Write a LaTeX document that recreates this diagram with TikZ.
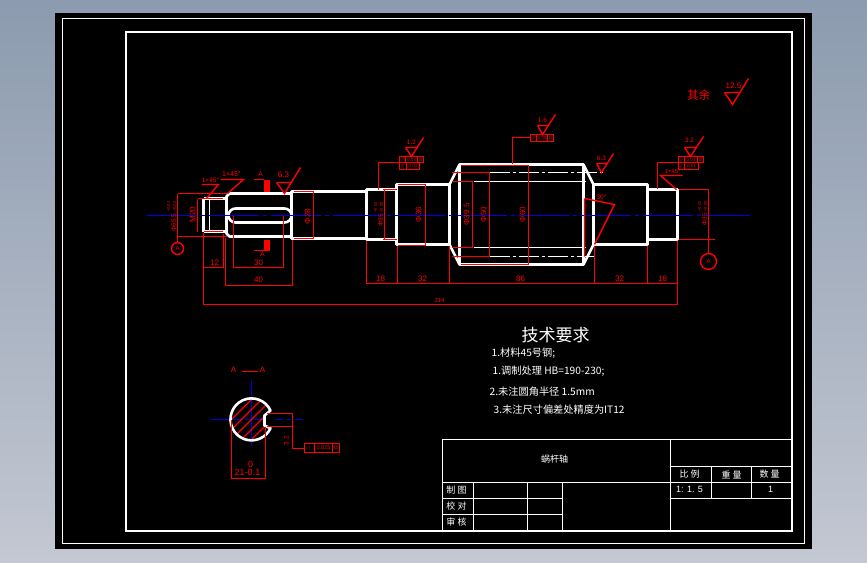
\documentclass[tikz,border=0pt]{standalone}
\usepackage{fontspec}
\setmainfont{Liberation Sans}
\newfontfamily\cjk{Noto Sans CJK SC}
\definecolor{cadgrey}{HTML}{8C9BAF}
\definecolor{cadgreylow}{HTML}{C3C8D2}
\definecolor{cadred}{HTML}{FF0000}
\definecolor{cadblue}{HTML}{0000E6}
\newcommand{\tolpair}[2]{{\fontsize{4}{4.4}\selectfont\shortstack{#1\\#2}}}
\tikzset{
  part/.style={draw=white,line width=2.6pt,line join=round},
  frame/.style={draw=white,line width=1.2pt},
  thinline/.style={draw=white,line width=1.2pt},
  dim/.style={draw=cadred,line width=1.4pt},
  heavydim/.style={draw=cadred,line width=1.6pt},
  axis/.style={draw=cadblue,line width=1.4pt,dash pattern=on 50pt off 4pt on 4pt off 4pt},
  dimtext/.style={text=cadred,font=\fontsize{8}{8}\selectfont,inner sep=0pt},
  smalltext/.style={text=cadred,font=\fontsize{6.5}{6.5}\selectfont,inner sep=0pt},
  tinytext/.style={text=cadred,font=\fontsize{4.5}{4.5}\selectfont,inner sep=0pt},
  datum/.style={draw=cadred,line width=1.4pt,circle,text=cadred,font=\fontsize{6}{6}\selectfont,inner sep=0pt},
  note/.style={text=white,font=\cjk\fontsize{10.2}{11}\selectfont,inner sep=0pt,anchor=west},
  cell/.style={text=white,font=\cjk\fontsize{9}{9}\selectfont,inner sep=0pt}
}
\begin{document}
\begin{tikzpicture}[x=1pt,y=-1pt]
\useasboundingbox (0,0) rectangle (867,562);
\shade[top color=cadgrey,bottom color=cadgreylow] (0,0) rectangle (867,562);
\fill[black] (55,13) rectangle (812,549);
\begin{scope}[shift={(0.5,0.5)}]
\draw[frame] (62,18) rectangle (804,543);
\draw[frame,line width=2pt] (125,31) rectangle (791,530);

% shaft
\draw[part] (203,198) -- (226,198) (203,231) -- (226,231) (203,198) -- (203,231);
\draw[thinline] (209,199) -- (209,231);
\draw[part] (226,196) -- (229,193) -- (291,193) -- (291,191) -- (366,191) -- (366,189)
  -- (396,189) -- (396,184) -- (449,184) -- (459,164) -- (583,164) -- (593,184)
  -- (647,184) -- (647,189) -- (677,189) -- (677,239) -- (647,239) -- (647,244) -- (593,244)
  -- (583,264) -- (459,264) -- (449,244) -- (396,244) -- (396,239) -- (366,239) -- (366,238)
  -- (291,238) -- (291,236) -- (229,236) -- (226,233) -- cycle;
\foreach \x/\a/\b in {291/191/238,366/189/239,396/184/244,449/184/244,459/164/264,
  583/164/264,593/184/244,647/184/244}
  \draw[part] (\x,\a) -- (\x,\b);
% keyway
\draw[part] (235,208) -- (284,208) arc[start angle=-90,end angle=90,radius=7] -- (235,222)
  arc[start angle=90,end angle=270,radius=7];
% thread lines
\draw[thinline] (473,181) -- (585,181);
\draw[thinline] (473,247) -- (585,247);
\draw[thinline,dash pattern=on 20pt off 3pt on 3pt off 3pt] (489,172) -- (605,172);
\draw[thinline,dash pattern=on 20pt off 3pt on 3pt off 3pt] (489,256) -- (593,256);

% centre lines
\draw[axis] (146,215) -- (749,215);
\draw[axis,dash pattern=on 30pt off 4pt on 4pt off 4pt] (210,419) -- (302,419);
\draw[cadblue,line width=1.4pt] (251,380) -- (251,444);

% left end
\node[datum,minimum size=12pt] (datumleft) at (177,248) {A};
\draw[dim] (177,193) -- (datumleft);
\draw[dim] (177,193) -- (226,193) (177,236) -- (226,236);
\draw[heavydim] (197,198) -- (222,198) (203,231) -- (222,231);
\draw[dim] (197,198) -- (197,231);
\node[smalltext,rotate=90] (dialeft) at (171,216) {Φ65.5 \tolpair{+0.02}{+0.00}};
\node[dimtext,rotate=90] (threadleft) at (192,214) {M20};
\draw[dim] (203,232) -- (203,304);
\draw[dim] (223,233) -- (223,267) (203,267) -- (223,267);
\node[dimtext] (lenA) at (214,262) {12};
\draw[dim] (225,237) -- (225,285) (292,239) -- (292,285) (225,285) -- (292,285);
\node[dimtext] (lenB) at (258,279) {40};
\draw[dim] (233,215) -- (233,267) (283,215) -- (283,267) (233,267) -- (283,267);
\node[dimtext] (lenC) at (258,262) {30};
\draw[dim] (203,304) -- (677,304);
\node[tinytext,font=\fontsize{6}{6}\selectfont] (lentotal) at (439,300) {214};
% chamfers left
\draw[dim] (201,184) -- (218,184) -- (206,198);
\node[smalltext] (chamA) at (210,180) {1×45°};
\draw[dim] (220,179) -- (243,179) -- (227,193);
\node[smalltext,font=\fontsize{7}{7}\selectfont] (chamB) at (231,174) {1×45°};
% section marks
\fill[cadred] (263,179) rectangle (269,191);
\draw[dim] (253,179) -- (263,179);
\node[smalltext] (cutA) at (260,174) {A};
\fill[cadred] (263,239) rectangle (269,250);
\draw[dim] (253,250) -- (263,250);
\node[smalltext] (cutB) at (262,254) {A};
% roughness on key part
\draw[dim] (276,182) -- (284,193) -- (300,167) (276,182) -- (292,182);
\node[dimtext] (roughA) at (283,174) {6.3};
% dia 28
\draw[dim] (293,191) -- (313,191) (293,238) -- (313,238) (313,191) -- (313,238);
\node[dimtext,rotate=90] (diaB) at (307,216) {Φ28};

% journal
\draw[heavydim] (382,189) -- (396,189) (382,239) -- (396,239);
\draw[dim] (384,189) -- (384,239);
\node[smalltext,rotate=90] (diaC) at (378,214) {Φ35 \tolpair{+0.02}{+0.00}};
\draw[dim] (378,189) -- (378,162) -- (399,162);
\draw[dim] (399,156) rectangle (423,162) (399,162) rectangle (419,169);
\draw[dim] (405,156) -- (405,162) (417,156) -- (417,162) (406,162) -- (406,169);
\node[tinytext] (tolA) at (411,159) {0.03};
\node[tinytext] (tolB) at (420,159) {B};
\node[tinytext] (tolC) at (402,159) {//};
\node[tinytext] (tolD) at (402,165.5) {//};
\node[tinytext] (tolE) at (412.5,165.5) {0.01};
\draw[dim] (405,147) -- (411,156) -- (423,137) (405,147) -- (417,147);
\node[smalltext] (roughB) at (411,142) {1.2};
\draw[dim] (397,184) -- (425,184) (425,184) -- (425,245) (397,245) -- (425,245);
\node[dimtext,rotate=90] (diaD) at (418,214) {Φ36};
% worm
\draw[dim] (451,172) -- (489,172) (489,172) -- (489,256) (451,256) -- (489,256);
\node[dimtext,rotate=90] (diaE) at (483,214) {Φ50};
\draw[dim] (451,181) -- (472,181) (472,181) -- (472,247) (451,247) -- (472,247);
\node[dimtext,rotate=90] (diaF) at (466,214) {Φ39.5};
\draw[heavydim] (460,165) -- (528,165) (528,165) -- (528,264) (460,264) -- (528,264);
\node[dimtext,rotate=90] (diaG) at (522,214) {Φ60};
\draw[dim] (512,163) -- (512,137) -- (530,137);
\draw[dim] (530,134) rectangle (553,141) (536,134) -- (536,141) (547,134) -- (547,141);
\node[tinytext] (tolF) at (541.5,137.5) {0.03};
\node[tinytext] (tolG) at (550,137.5) {B};
\node[tinytext] (tolH) at (533,137.5) {//};
\draw[dim] (537,125) -- (542,134) -- (555,114) (537,125) -- (547,125);
\node[smalltext] (roughC) at (542,120) {1.6};
% lower dimensions
\foreach \x/\a in {366/240,397/245,449/245,594/245,647/245}
  \draw[dim] (\x,\a) -- (\x,283);
\draw[dim] (677,240) -- (677,304);
\draw[dim] (366,283) -- (677,283);
\node[dimtext] (lenD) at (380,278) {18};
\node[dimtext] (lenE) at (422,278) {32};
\node[dimtext] (lenF) at (520,278) {86};
\node[dimtext] (lenG) at (619,278) {32};
\node[dimtext] (lenH) at (662,278) {18};
% right end
\draw[dim] (584,198) -- (584,256) (584,198) -- (614,204) -- (594,244);
\node[smalltext] (angleA) at (601,197) {30°};
\draw[dim] (596,163) -- (601,172) -- (613,153) (596,163) -- (606,163);
\node[smalltext] (roughD) at (601,158) {6.3};
\draw[dim] (678,156) rectangle (703,162) (678,162) rectangle (698,169);
\draw[dim] (684,156) -- (684,162) (697,156) -- (697,162) (684,162) -- (684,169);
\node[tinytext] (tolJ) at (690.5,159) {0.03};
\node[tinytext] (tolK) at (700,159) {B};
\node[tinytext] (tolL) at (681,159) {//};
\node[tinytext] (tolM) at (681,165.5) {//};
\node[tinytext] (tolN) at (691,165.5) {0.01};
\draw[dim] (657,188) -- (657,162) -- (678,162);
\draw[dim] (684,147) -- (690,156) -- (703,136) (684,147) -- (696,147);
\node[smalltext] (roughE) at (689,140) {3.2};
\draw[dim] (682,175) -- (660,175) -- (676,189);
\node[smalltext,font=\fontsize{6}{6}\selectfont] (chamC) at (672,171) {1×45°};
\node[datum,minimum size=16pt] (datumright) at (708,261) {A};
\draw[dim] (678,189) -- (708,189) -- (datumright);
\draw[dim] (678,239) -- (714,239);
\node[smalltext,rotate=90] (diaH) at (702,213) {Φ35 \tolpair{+0.02}{+0.00}};
% other roughness
\node[text=cadred,font=\cjk\fontsize{11.5}{12}\selectfont,inner sep=0pt] (restlabel) at (698,95) {其余};
\draw[dim] (724,92) -- (732,104) -- (748,78) (724,92) -- (740,92);
\node[dimtext] (roughF) at (733,85) {12.5};

% section A-A
\node[dimtext] (titleA) at (233,369) {A};
\node[dimtext] (titleB) at (262,369) {A};
\draw[dim] (241,371) -- (257,371);
\begin{scope}
  \clip (251,419) circle (20);
  \foreach \s in {-30,-20,...,30}
    \draw[cadred,line width=1.1pt] (251+\s-25,444) -- (251+\s+25,394);
\end{scope}
\fill[black] (265,412) rectangle (275,427);
\draw[part] (270,410) arc[start angle=-25,end angle=-335,radius=21] -- (264,425) -- (264,415) -- cycle;
\draw[dim] (231,419) -- (231,478) (265,426) -- (265,478) (231,478) -- (265,478);
\node[dimtext,font=\fontsize{9}{9}\selectfont] (widthA) at (250,464) {0};
\node[dimtext,font=\fontsize{9}{9}\selectfont] (widthB) at (247,472) {21-0.1};
\draw[dim] (266,413) -- (292,413) (266,426) -- (292,426);
\draw[dim] (292,413) -- (292,448) -- (304,448);
\node[smalltext,rotate=90] (depthA) at (286,440) {3.2};
\draw[dim] (304,443) rectangle (339,452) (314,443) -- (314,452) (332,443) -- (332,452);
\node[tinytext] (symA) at (309,447.5) {=};
\node[tinytext,font=\fontsize{5.5}{5.5}\selectfont] (symB) at (323,447.5) {0.025};
\node[tinytext,font=\fontsize{5.5}{5.5}\selectfont] (symC) at (335.5,447.5) {B};

% technical notes
\node[text=white,font=\cjk\fontsize{17}{18}\selectfont,inner sep=0pt] (notetitle) at (555,335) {技术要求};
\node[note] (noteone) at (491,353) {1.材料45号钢;};
\node[note] (notetwo) at (492,371) {1.调制处理 HB=190-230;};
\node[note] (notethree) at (489,391) {2.未注圆角半径 1.5mm};
\node[note] (notefour) at (493,409) {3.未注尺寸偏差处精度为IT12};

% title block
\draw[frame,line width=1.6pt] (442,439) rectangle (791,530);
\draw[thinline] (442,482) -- (791,482);
\draw[thinline] (670,439) -- (670,530);
\draw[thinline] (670,466) -- (791,466);
\draw[thinline] (711,466) -- (711,498);
\draw[thinline] (751,466) -- (751,498);
\draw[thinline] (670,498) -- (791,498);
\draw[thinline] (442,498) -- (562,498);
\draw[thinline] (442,514) -- (562,514);
\draw[thinline] (473,482) -- (473,530);
\draw[thinline] (527,482) -- (527,530);
\draw[thinline] (562,482) -- (562,530);
\node[cell] (partname) at (554,459) {蜗杆轴};
\node[cell] (scalehead) at (689,474) {比 例};
\node[cell] (weighthead) at (731,474) {重 量};
\node[cell] (counthead) at (769,474) {数 量};
\node[cell,font=\fontsize{9}{9}\selectfont] (scaleval) at (689,489) {1: 1. 5};
\node[cell,font=\fontsize{9}{9}\selectfont] (countval) at (770,489) {1};
\node[cell] (drawnby) at (456,490) {制 图};
\node[cell] (checkedby) at (456,506) {校 对};
\node[cell] (approvedby) at (456,522) {审 核};
\end{scope}
\end{tikzpicture}
\end{document}
